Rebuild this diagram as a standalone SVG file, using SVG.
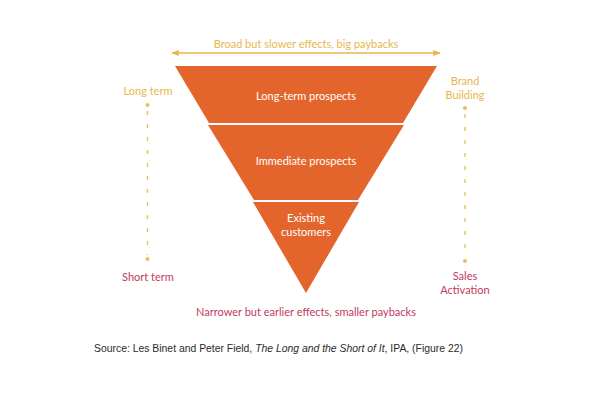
<svg xmlns="http://www.w3.org/2000/svg" width="600" height="400" viewBox="0 0 600 400">
<defs>
<style>
.lbl{font-family:Lato,"Open Sans","Liberation Sans",sans-serif;font-size:11px;text-anchor:middle}
.gold{fill:#E6B84B}
.red{fill:#BF3A5C}
.white{fill:#FFFFFF}
.dash{stroke:#E6C35A;stroke-width:1.4;stroke-dasharray:4 9;fill:none}
.dot{fill:#E6C35A}
.seg{fill:#E3652B}
.src{font-family:"Liberation Sans",Arial,sans-serif;font-size:10.4px;fill:#2A2A2A}
</style>
<marker id="ah" viewBox="0 0 10 10" refX="9" refY="5" markerWidth="5" markerHeight="5" orient="auto-start-reverse">
<path d="M0,1 L10,5 L0,9 z" fill="#E6B84B"/>
</marker>
</defs>
<rect width="600" height="400" fill="#FFFFFF"/>
<g id="connectors">
<line x1="172" y1="53" x2="440" y2="53" stroke="#E6B84B" stroke-width="1.5" marker-start="url(#ah)" marker-end="url(#ah)"/>
<line class="dash" x1="147.5" y1="111" x2="147.5" y2="255"/>
<circle class="dot" cx="147.5" cy="105" r="2"/>
<circle class="dot" cx="147.5" cy="259" r="2"/>
<line class="dash" x1="465" y1="114" x2="465" y2="257"/>
<circle class="dot" cx="465" cy="108" r="2"/>
<circle class="dot" cx="465" cy="261" r="2"/>
</g>
<g id="long-term-prospects">
<polygon class="seg" points="175,66 437,66 403,123 209,123"/>
<text class="lbl white" x="306" y="100">Long-term prospects</text>
</g>
<g id="immediate-prospects">
<polygon class="seg" points="208,125 404,125 358,200 254,200"/>
<text class="lbl white" x="306" y="165">Immediate prospects</text>
</g>
<g id="existing-customers">
<polygon class="seg" points="253,202 359,202 306,293"/>
<text class="lbl white" x="306" y="222">Existing</text>
<text class="lbl white" x="306" y="236">customers</text>
</g>
<g id="labels">
<text class="lbl gold" x="306" y="48">Broad but slower effects, big paybacks</text>
<text class="lbl gold" x="148" y="95">Long term</text>
<text class="lbl gold" x="465" y="85">Brand</text>
<text class="lbl gold" x="465" y="99">Building</text>
<text class="lbl red" x="148" y="281">Short term</text>
<text class="lbl red" x="465" y="280">Sales</text>
<text class="lbl red" x="465" y="294">Activation</text>
<text class="lbl red" x="306" y="316">Narrower but earlier effects, smaller paybacks</text>
</g>
<text class="src" x="94" y="352">Source: Les Binet and Peter Field, <tspan font-style="italic">The Long and the Short of It</tspan>, IPA, (Figure 22)</text>
</svg>
